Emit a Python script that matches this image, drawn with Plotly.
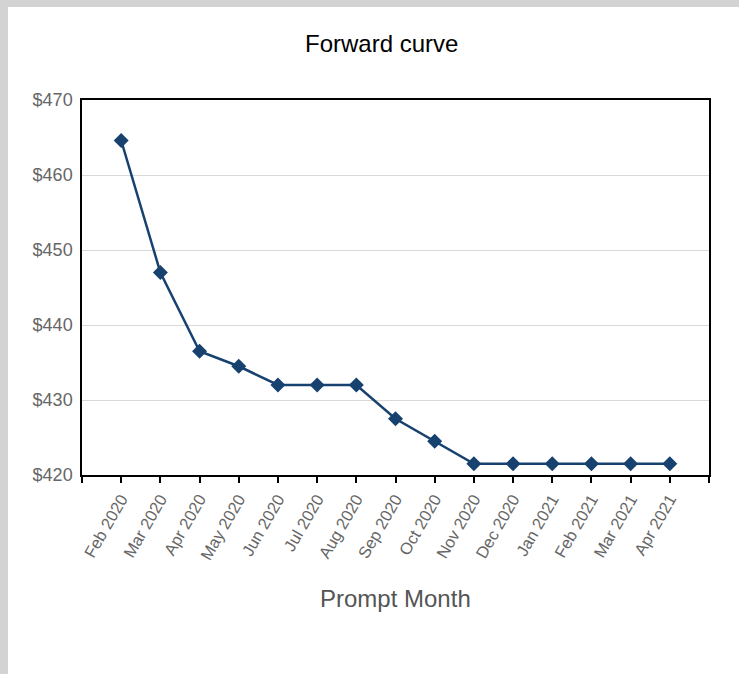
import plotly.graph_objects as go

months = ["Feb 2020", "Mar 2020", "Apr 2020", "May 2020", "Jun 2020", "Jul 2020",
          "Aug 2020", "Sep 2020", "Oct 2020", "Nov 2020", "Dec 2020", "Jan 2021",
          "Feb 2021", "Mar 2021", "Apr 2021"]
prices = [464.6, 447.0, 436.5, 434.5, 432.0, 432.0, 432.0, 427.5, 424.5,
          421.5, 421.5, 421.5, 421.5, 421.5, 421.5]
y_ticks = [420, 430, 440, 450, 460, 470]

idx = list(range(len(months)))
# figure is placed at (8, 7) in the page (grey page border on top/left)
OX, OY = 8, 7
W, H = 739 - OX, 674 - OY
L, R, T, B = 82 - OX, 739 - 709, 100 - OY, 674 - 475
pw, ph = W - L - R, H - T - B

fig = go.Figure()
fig.add_trace(go.Scatter(
    x=idx, y=prices, mode="lines+markers",
    line=dict(color="#17426f", width=2.5),
    marker=dict(symbol="diamond", size=11.5, color="#17426f"),
    hoverinfo="skip", showlegend=False,
))

tickvals = [-1] + idx + [len(months)]
ticktext = [""] + months + [""]

fig.update_layout(
    width=W, height=H,
    margin=dict(l=L, r=R, t=T, b=B, pad=0),
    paper_bgcolor="white",
    plot_bgcolor="white",
    font=dict(family="Liberation Sans, Arial, sans-serif", color="#666666"),
    xaxis=dict(
        range=[-1, len(months)], tickmode="array", tickvals=tickvals, ticktext=ticktext,
        tickangle=-60, tickfont=dict(size=16.5, color="#666666"),
        ticks="outside", ticklen=6, tickwidth=2, tickcolor="black",
        showline=True, linecolor="black", linewidth=2, mirror=True,
        showgrid=False, zeroline=False,
    ),
    yaxis=dict(
        range=[420, 470], tickmode="array", tickvals=y_ticks,
        ticktext=[f"${v}" for v in y_ticks],
        tickfont=dict(size=18, color="#666666"),
        ticks="", ticklabelstandoff=4,
        showline=True, linecolor="black", linewidth=1.5, mirror=True,
        showgrid=True, gridcolor="#d9d9d9", gridwidth=1, zeroline=False,
    ),
    annotations=[
        dict(text="Forward curve", xref="paper", yref="paper",
             x=(381 - OX - L) / pw, y=(H - B - (43 - OY)) / ph,
             xanchor="center", yanchor="middle",
             showarrow=False, font=dict(size=24, color="black")),
        dict(text="Prompt Month", xref="paper", yref="paper",
             x=0.5, y=(H - B - (598 - OY)) / ph, xanchor="center", yanchor="middle",
             showarrow=False, font=dict(size=24, color="#555555")),
    ],
)

fig.write_html(
    "out.html",
    post_script="document.documentElement.style.background='#d3d3d3';"
                "document.documentElement.style.overflow='hidden';"
                "document.body.style.margin='7px 0 0 8px';"
                "document.body.style.padding='0';",
)
